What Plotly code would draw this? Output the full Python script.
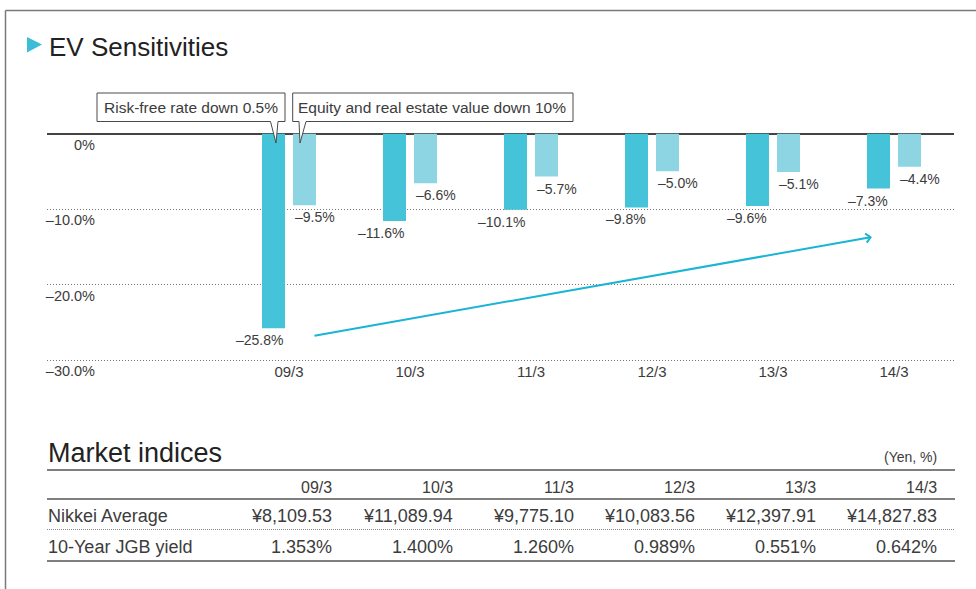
import plotly.graph_objects as go

W, H = 976, 589

# ---- data -------------------------------------------------------------
periods = ["09/3", "10/3", "11/3", "12/3", "13/3", "14/3"]
rate_down = [-25.8, -11.6, -10.1, -9.8, -9.6, -7.3]      # risk-free rate down 0.5%
equity_down = [-9.5, -6.6, -5.7, -5.0, -5.1, -4.4]       # equity & real estate down 10%
y_ticks = [0, -10, -20, -30]
y_tick_text = ["0%", "–10.0%", "–20.0%", "–30.0%"]

nikkei = ["¥8,109.53", "¥11,089.94", "¥9,775.10", "¥10,083.56", "¥12,397.91", "¥14,827.83"]
jgb_yield = ["1.353%", "1.400%", "1.260%", "0.989%", "0.551%", "0.642%"]
row_labels = ["Nikkei Average", "10-Year JGB yield"]

# ---- styling ----------------------------------------------------------
FONT = "Liberation Sans, Arial, Helvetica, sans-serif"
TXT = "#3c3c3c"
DARK = "#44C3D9"
LIGHT = "#8DD5E2"
ARROW = "#1AB4D4"
BARGAP = 0.4876
GROUPGAP = 0.258
Y_MIN = -30.3   # a little below -30 so the -30 gridline is still drawn


def px(x):
    return x / W


def py(y):
    return 1 - y / H


def pct(v):
    return ("–" if v < 0 else "") + f"{abs(v):.1f}%"


fig = go.Figure()
fig.add_trace(go.Bar(x=periods, y=rate_down, marker_color=DARK, marker_line_width=0,
                     name="Risk-free rate down 0.5%", hoverinfo="skip"))
fig.add_trace(go.Bar(x=periods, y=equity_down, marker_color=LIGHT, marker_line_width=0,
                     name="Equity and real estate value down 10%", hoverinfo="skip"))

annotations = []
shapes = []

# value labels under each bar: dark ones flush right, light ones flush left
slot = (1 - BARGAP) / 2
edge = slot * GROUPGAP / 2
for i, (a, b) in enumerate(zip(rate_down, equity_down)):
    annotations.append(dict(x=i - edge, y=a, xref="x", yref="y", text=pct(a),
                            showarrow=False, xanchor="right", yanchor="top", yshift=-2,
                            font=dict(size=14, color=TXT, family=FONT)))
    annotations.append(dict(x=i + edge, y=b, xref="x", yref="y", text=pct(b),
                            showarrow=False, xanchor="left", yanchor="top", yshift=-2,
                            font=dict(size=14, color=TXT, family=FONT)))

# trend arrow
annotations.append(dict(x=4.818, y=-13.71, ax=0.198, ay=-26.82, xref="x", yref="y",
                        axref="x", ayref="y", text="", showarrow=True, arrowhead=4,
                        arrowsize=0.9, arrowwidth=2, arrowcolor=ARROW, standoff=0))

# speech-bubble callouts pointing at the first pair of bars
dark_c = 0 - slot / 2
light_c = 0 + slot / 2
tip_y = py(143)
bubbles = [
    (dark_c, "M -176.5,50 L 11.5,50 L 11.5,21.5 L 4.5,21.5 L 2.5,0 L -3,21.5 L -176.5,21.5 Z",
     "Risk-free rate down 0.5%", -82.5),
    (light_c, "M -11.8,50 L 268.5,50 L 268.5,21.5 L 1.5,21.5 L -4.5,0 L -5.5,21.5 L -11.8,21.5 Z",
     "Equity and real estate value down 10%", 127),
]
for xa, path, label, dx in bubbles:
    shapes.append(dict(type="path", xref="x", yref="paper", xsizemode="pixel", ysizemode="pixel",
                       xanchor=xa, yanchor=tip_y, path=path, fillcolor="white",
                       line=dict(color="#4a4a4a", width=1), layer="above"))
    annotations.append(dict(x=xa, xref="x", xshift=dx, y=py(108), yref="paper", text=label,
                            showarrow=False, xanchor="center", yanchor="middle",
                            font=dict(size=15.5, color=TXT, family=FONT)))

# outer frame (top and left edges)
shapes.append(dict(type="line", xref="paper", yref="paper", x0=px(5.5), x1=1.01,
                   y0=py(10.5), y1=py(10.5), line=dict(color="#7a7a7a", width=1.5)))
shapes.append(dict(type="line", xref="paper", yref="paper", x0=px(5.5), x1=px(5.5),
                   y0=py(10.5), y1=-0.01, line=dict(color="#7a7a7a", width=1.5)))

# title marker and title
shapes.append(dict(type="path", xref="paper", yref="paper",
                   path=f"M {px(27)},{py(37)} L {px(42)},{py(44.5)} L {px(27)},{py(52.5)} Z",
                   fillcolor="#3BBDD7", line=dict(width=0)))
annotations.append(dict(x=px(47), y=py(47), xref="paper", yref="paper", text="EV Sensitivities",
                        showarrow=False, xanchor="left", yanchor="middle",
                        font=dict(size=26, color="#222", family=FONT)))

# ---- market indices table ---------------------------------------------
annotations.append(dict(x=px(45.5), y=py(453), xref="paper", yref="paper", text="Market indices",
                        showarrow=False, xanchor="left", yanchor="middle",
                        font=dict(size=27, color="#222", family=FONT)))
annotations.append(dict(x=px(939), y=py(457), xref="paper", yref="paper", text="(Yen, %)",
                        showarrow=False, xanchor="right", yanchor="middle",
                        font=dict(size=14, color=TXT, family=FONT)))

col_right = [333 + 121 * i for i in range(len(periods))]
rows = [(487, periods, 16), (516, nikkei, 18), (547, jgb_yield, 18)]
for yc, cells, fs in rows:
    for xr, t in zip(col_right, cells):
        annotations.append(dict(x=px(xr + 1), y=py(yc), xref="paper", yref="paper", text=t,
                                showarrow=False, xanchor="right", yanchor="middle",
                                font=dict(size=fs, color=TXT, family=FONT)))
for yc, lab in zip([516, 547], row_labels):
    annotations.append(dict(x=px(45.5), y=py(yc), xref="paper", yref="paper", text=lab,
                            showarrow=False, xanchor="left", yanchor="middle",
                            font=dict(size=18, color=TXT, family=FONT)))

for yl, dash, col in [(470, "solid", "#555"), (499, "solid", "#555"),
                      (529.5, "dot", "#888"), (561, "solid", "#555")]:
    shapes.append(dict(type="line", xref="paper", yref="paper", x0=px(47), x1=px(955),
                       y0=py(yl), y1=py(yl),
                       line=dict(color=col, width=1.5 if dash == "solid" else 1,
                                 dash="1px,1px" if dash == "dot" else "solid")))

# y scale: 0% at 133.5 px, -30% at 360 px
y_px_per_unit = (360 - 133.5) / 30
y_bottom_px = 133.5 - Y_MIN * y_px_per_unit

fig.update_layout(
    width=W, height=H, autosize=False,
    margin=dict(l=0, r=0, t=0, b=0, pad=0),
    paper_bgcolor="white", plot_bgcolor="white",
    showlegend=False,
    barmode="group", bargap=BARGAP, bargroupgap=GROUPGAP,
    font=dict(family=FONT, color=TXT, size=14),
    xaxis=dict(domain=[px(47), px(954)], type="category", range=[-2, 5.496],
               showgrid=False, zeroline=False, showline=False, ticks="", automargin=False,
               ticklabelstandoff=-1,
               tickfont=dict(size=15, color=TXT, family=FONT), fixedrange=True),
    yaxis=dict(domain=[py(y_bottom_px), py(133.5)], range=[Y_MIN, 0], anchor="free",
               position=px(95),
               tickvals=y_ticks, ticktext=y_tick_text, ticks="", showline=False, automargin=False,
               showgrid=True, gridcolor="#777", gridwidth=1, griddash="1px,2px",
               zeroline=True, zerolinecolor="#444", zerolinewidth=1.5,
               ticklabelshift=11,
               tickfont=dict(size=14.5, color=TXT, family=FONT), fixedrange=True),
    annotations=annotations,
    shapes=shapes,
)

fig.write_html("out.html")
